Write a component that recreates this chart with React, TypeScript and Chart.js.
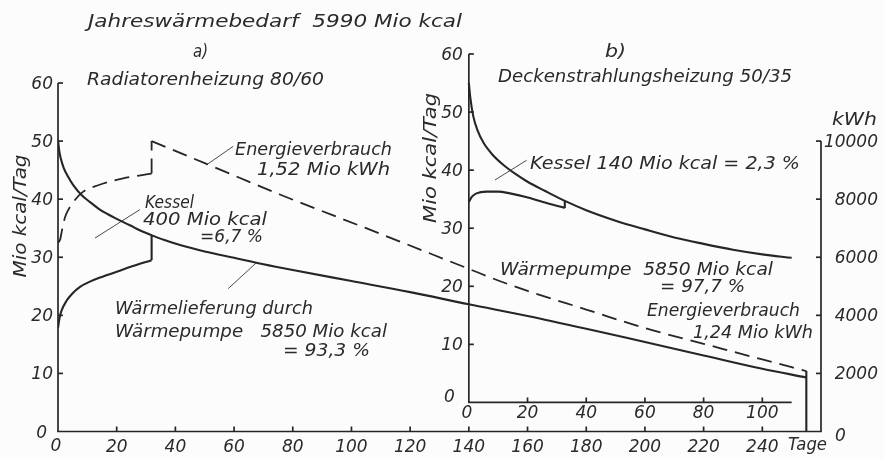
import { useEffect, useRef } from 'react';
import { Chart, registerables } from 'chart.js';

Chart.register(...registerables);

// ---------------- tick labels ----------------
const dayTicks = [20, 40, 60, 80, 100, 120, 140, 160, 180, 200, 220, 240];
const kcalTicks = [10, 20, 30, 40, 50, 60];
const kwhTicks = [2000, 4000, 6000, 8000, 10000];
const insetDayTicks = [20, 40, 60, 80, 100];
const insetKcalTicks = [10, 20, 30, 40, 50, 60];

// ---------------- a) Radiatorenheizung 80/60 ----------------
// total heat demand (Mio kcal/Tag)
const aDemandDays = [0, 0.4, 1, 2, 3.5, 5.2, 8, 10.9, 14, 17, 20, 24.5, 28, 31.9, 36, 41.6, 50, 60, 70, 80, 100, 120, 140, 160, 180, 200, 220, 240, 255];
const aDemandKcal = [50.2, 48.4, 46.9, 45.3, 43.8, 42.4, 40.7, 39.5, 38.3, 37.4, 36.6, 35.5, 34.6, 33.8, 33.0, 32.1, 31.0, 29.9, 28.8, 27.8, 25.9, 24.0, 21.9, 19.9, 17.7, 15.4, 13.1, 10.8, 9.3];
// heat-pump share (boiler covers the rest)
const aPumpDays = [0, 0.5, 1.2, 2.9, 5, 7.5, 10.9, 14.3, 20, 25, 31.9];
const aPumpKcal = [17.8, 19.5, 20.8, 22.5, 23.8, 24.9, 25.8, 26.5, 27.5, 28.4, 29.5];
const aBoilerEndDay = 31.9;
const aBoilerEndKcal = [29.5, 33.8];
// energy consumption (kWh)
const aEnergyRiseDays = [0, 0.7, 1.5, 2.4, 3.6, 5.2, 8.6, 13.7, 22.2, 31.9];
const aEnergyRiseKwh = [6500, 6600, 7000, 7380, 7650, 7900, 8260, 8480, 8720, 8880];
const aEnergyFallDays = [31.9, 50, 75.6, 105, 140, 150, 160, 180, 200, 220, 240, 255];
const aEnergyFallKwh = [10000, 9240, 8160, 7000, 5600, 5200, 4840, 4200, 3560, 3020, 2480, 2080];
const aEndDay = 255;
const aEndKwh = [0, 2080];

// ---------------- b) Deckenstrahlungsheizung 50/35 (inset axes) ----------------
const bDemandDays = [0, 0.5, 1.5, 3, 5, 8, 12, 16, 20, 26, 32.7, 40, 50, 60, 70, 80, 90, 100, 110];
const bDemandKcal = [55, 52.5, 49.3, 46.8, 44.7, 42.7, 40.8, 39.3, 38.0, 36.4, 34.7, 33.1, 31.3, 29.8, 28.4, 27.3, 26.3, 25.5, 24.9];
const bPumpDays = [0, 1, 2.6, 6, 10, 14, 20.8, 25.3, 32.7];
const bPumpKcal = [34.5, 35.4, 36.0, 36.3, 36.3, 36.0, 35.2, 34.5, 33.5];
const bBoilerEndDay = 32.7;
const bBoilerEndKcal = [33.5, 34.7];

// ---------------- leader lines (data coordinates) ----------------
const leaderEnergyA = { days: [50.6, 59.7], kcal: [45.9, 49.1] };
const leaderBoilerA = { days: [12.6, 27.9], kcal: [33.3, 38.2] };
const leaderPumpA = { days: [58, 67.7], kcal: [24.6, 29.1] };
const leaderBoilerB = { days: [8.9, 19.7], kcal: [38.3, 41.7] };

// ---------------- texts ----------------
const labelTexts = [
  'Jahreswärmebedarf  5990 Mio kcal',
  'a)',
  'Radiatorenheizung 80/60',
  'b)',
  'Deckenstrahlungsheizung 50/35',
  'Energieverbrauch',
  '1,52 Mio kWh',
  'Kessel',
  '400 Mio kcal',
  '=6,7 %',
  'Wärmelieferung durch',
  'Wärmepumpe   5850 Mio kcal',
  '= 93,3 %',
  'Kessel 140 Mio kcal = 2,3 %',
  'Wärmepumpe  5850 Mio kcal',
  '= 97,7 %',
  'Energieverbrauch',
  '1,24 Mio kWh',
  'kWh',
  'Tage',
];
const axisTitle = 'Mio kcal/Tag';

// layout of the texts in canvas pixels: [left, right, baseline]
const LABEL_BOXES: number[][] = [
  [88, 462, 27],
  [193, 208, 57],
  [87, 324, 85],
  [605, 626, 57],
  [498, 792, 82],
  [235, 392, 155],
  [257, 390, 175],
  [145, 194, 208],
  [143, 267, 225],
  [200, 263, 242],
  [115, 313, 314],
  [115, 387, 337],
  [283, 370, 356],
  [530, 800, 169],
  [500, 773, 275],
  [660, 745, 292],
  [647, 800, 316],
  [693, 813, 338],
  [832, 877, 125],
  [788, 827, 450],
];

const FONT = "'DejaVu Sans', 'Liberation Sans', sans-serif";
const INK = '#262626';

const pts = (xs: number[], ys: number[]) => xs.map((x, i) => ({ x, y: ys[i] }));
const vert = (x: number, ys: number[]) => ys.map((y) => ({ x, y }));

function curve(data: any[], xAxisID: string, yAxisID: string, extra: any = {}) {
  return {
    data,
    xAxisID,
    yAxisID,
    borderColor: INK,
    borderWidth: 2.1,
    pointRadius: 0,
    fill: false,
    cubicInterpolationMode: 'monotone',
    ...extra,
  };
}
function straight(data: any[], xAxisID: string, yAxisID: string, extra: any = {}) {
  return {
    data,
    xAxisID,
    yAxisID,
    borderColor: INK,
    borderWidth: 2.1,
    pointRadius: 0,
    fill: false,
    tension: 0,
    ...extra,
  };
}

function fitted(ctx: CanvasRenderingContext2D, text: string, left: number, right: number, baseline: number, size = 17) {
  ctx.save();
  ctx.font = `italic ${size}px ${FONT}`;
  ctx.textAlign = 'left';
  ctx.textBaseline = 'alphabetic';
  const w = ctx.measureText(text).width;
  ctx.translate(left, baseline);
  ctx.scale((right - left) / w, 1);
  ctx.fillText(text, 0, 0);
  ctx.restore();
}

function rotatedTitle(ctx: CanvasRenderingContext2D, text: string, baselineX: number, centerY: number, length: number) {
  ctx.save();
  ctx.font = `italic 17px ${FONT}`;
  const w = ctx.measureText(text).width;
  ctx.translate(baselineX, centerY);
  ctx.rotate(-Math.PI / 2);
  ctx.scale(length / w, 1);
  ctx.textAlign = 'center';
  ctx.textBaseline = 'alphabetic';
  ctx.fillText(text, 0, 0);
  ctx.restore();
}

const overlay = {
  id: 'overlay',
  afterDatasetsDraw(chart: any) {
    const { ctx, scales } = chart;
    const { x, y, x2, y2, y3 } = scales;
    ctx.save();
    ctx.strokeStyle = INK;
    ctx.fillStyle = '#2a2a2a';
    ctx.lineWidth = 1.7;
    ctx.lineCap = 'butt';
    const line = (ax: number, ay: number, bx: number, by: number) => {
      ctx.beginPath();
      ctx.moveTo(ax, ay);
      ctx.lineTo(bx, by);
      ctx.stroke();
    };
    const T = 5;

    // main axes
    const X0 = x.getPixelForValue(0);
    const Y0 = y.getPixelForValue(0);
    const XR = x.getPixelForValue(260);
    line(X0, Y0, X0, y.getPixelForValue(60));
    line(X0 - 0.8, Y0, XR + 0.8, Y0);
    kcalTicks.forEach((v) => {
      const py = y.getPixelForValue(v);
      line(X0, py, X0 + T, py);
    });
    dayTicks.forEach((v) => {
      const px = x.getPixelForValue(v);
      line(px, Y0, px, Y0 - T);
    });
    // right kWh axis
    line(XR, Y0, XR, y3.getPixelForValue(10000));
    kwhTicks.forEach((v) => {
      const py = y3.getPixelForValue(v);
      line(XR, py, XR - T, py);
    });

    // inset axes
    const IX0 = x2.getPixelForValue(0);
    const IY0 = y2.getPixelForValue(0);
    line(IX0, IY0, IX0, y2.getPixelForValue(60));
    line(IX0 - 0.8, IY0, x2.getPixelForValue(110), IY0);
    insetKcalTicks.forEach((v) => {
      const py = y2.getPixelForValue(v);
      line(IX0, py, IX0 + T, py);
    });
    insetDayTicks.forEach((v) => {
      const px = x2.getPixelForValue(v);
      line(px, IY0, px, IY0 - T);
    });

    // tick labels
    ctx.font = `italic 17px ${FONT}`;
    ctx.textBaseline = 'alphabetic';
    ctx.textAlign = 'right';
    kcalTicks.forEach((v) => ctx.fillText(String(v), X0 - 5, y.getPixelForValue(v) + 6));
    ctx.fillText('0', X0 - 11, Y0 + 6);
    insetKcalTicks.forEach((v) => ctx.fillText(String(v), IX0 - 6, y2.getPixelForValue(v) + 6));
    ctx.fillText('0', IX0 - 14, IY0);
    kwhTicks.forEach((v) => ctx.fillText(String(v), XR + 57, y3.getPixelForValue(v) + 6));
    ctx.textAlign = 'center';
    dayTicks.forEach((v) => ctx.fillText(String(v), x.getPixelForValue(v), Y0 + 20));
    ctx.fillText('0', X0 - 2, Y0 + 19);
    insetDayTicks.forEach((v) => ctx.fillText(String(v), x2.getPixelForValue(v), IY0 + 16));
    ctx.fillText('0', IX0 - 2, IY0 + 16);
    ctx.textAlign = 'left';
    ctx.fillText('0', XR + 14, Y0 + 9);

    // axis titles
    rotatedTitle(ctx, axisTitle, 26, 216, 123);
    rotatedTitle(ctx, axisTitle, 436, 158, 130);

    // annotations
    labelTexts.forEach((t, i) => {
      const [l, r, b] = LABEL_BOXES[i];
      fitted(ctx, t, l, r, b);
    });
    ctx.restore();
  },
};

export default function App() {
  const ref = useRef<HTMLCanvasElement | null>(null);

  useEffect(() => {
    if (!ref.current) return;
    const thin = { borderWidth: 1, borderColor: '#4a4a4a' };
    const dashed = { borderDash: [15, 8], borderWidth: 1.8 };
    const chart = new Chart(ref.current, {
      type: 'line',
      data: {
        datasets: [
          curve(pts(aDemandDays, aDemandKcal), 'x', 'y'),
          curve(pts(aPumpDays, aPumpKcal), 'x', 'y'),
          straight(vert(aBoilerEndDay, aBoilerEndKcal), 'x', 'y'),
          curve(pts(aEnergyRiseDays, aEnergyRiseKwh), 'x', 'y3', dashed),
          straight(vert(aEnergyFallDays[0], [aEnergyRiseKwh[aEnergyRiseKwh.length - 1], aEnergyFallKwh[0]]), 'x', 'y3', dashed),
          curve(pts(aEnergyFallDays, aEnergyFallKwh), 'x', 'y3', dashed),
          straight(vert(aEndDay, aEndKwh), 'x', 'y3'),
          curve(pts(bDemandDays, bDemandKcal), 'x2', 'y2'),
          curve(pts(bPumpDays, bPumpKcal), 'x2', 'y2'),
          straight(vert(bBoilerEndDay, bBoilerEndKcal), 'x2', 'y2'),
          straight(pts(leaderEnergyA.days, leaderEnergyA.kcal), 'x', 'y', thin),
          straight(pts(leaderBoilerA.days, leaderBoilerA.kcal), 'x', 'y', thin),
          straight(pts(leaderPumpA.days, leaderPumpA.kcal), 'x', 'y', thin),
          straight(pts(leaderBoilerB.days, leaderBoilerB.kcal), 'x2', 'y2', thin),
        ] as any,
      },
      options: {
        animation: false,
        responsive: false,
        events: [],
        layout: { padding: { left: 58, right: 63, top: 83, bottom: 27.5 } },
        plugins: { legend: { display: false }, tooltip: { enabled: false } },
        scales: {
          x: { type: 'linear', min: 0, max: 260, display: false },
          y: { type: 'linear', min: 0, max: 60, display: false },
          x2: { type: 'linear', min: -140, max: 120, display: false },
          y2: { type: 'linear', min: -5, max: 55, display: false },
          y3: { type: 'linear', min: 0, max: 12000, display: false },
        },
      } as any,
      plugins: [overlay],
    });
    return () => chart.destroy();
  }, []);

  return (
    <div style={{ position: 'absolute', left: 0, top: 0, width: 884, height: 459, background: '#fcfcfc' }}>
      <canvas ref={ref} width={884} height={459} style={{ display: 'block', width: 884, height: 459 }} />
    </div>
  );
}
